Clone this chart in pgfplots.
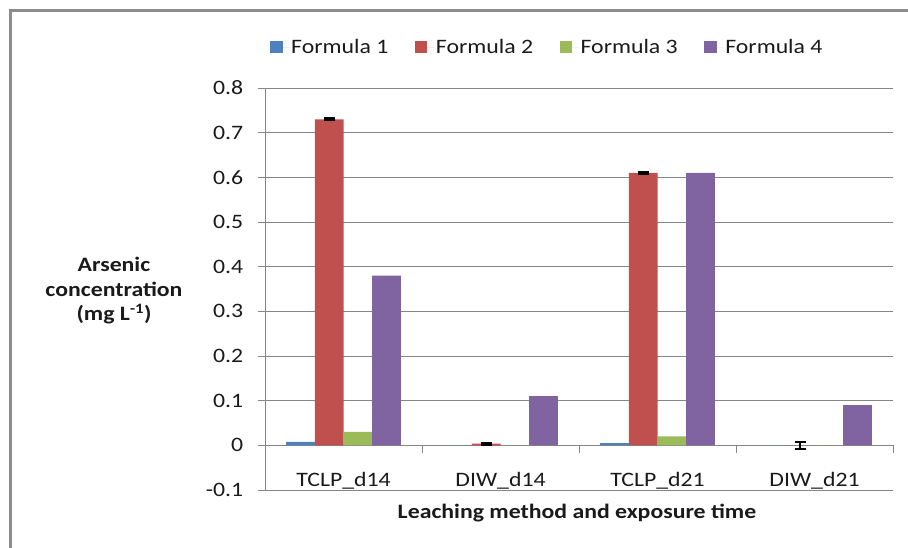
\documentclass[border=0pt]{standalone}
\usepackage{pgfplots}
\pgfplotsset{compat=1.18}
\usepackage{fontspec}
\setmainfont{Carlito}[FakeStretch=1.16]

\definecolor{fone}{HTML}{4F81BD}
\definecolor{ftwo}{HTML}{C0504D}
\definecolor{fthree}{HTML}{9BBB59}
\definecolor{ffour}{HTML}{8064A2}
\definecolor{gridgray}{HTML}{868686}
\definecolor{framegray}{HTML}{8C8C8C}
\definecolor{txt}{HTML}{1A1A1A}

\newcommand{\chartfont}{\fontsize{20.5}{24.5}\selectfont}

\begin{document}
\begin{tikzpicture}[x=1pt,y=1pt]
\useasboundingbox (0,0) rectangle (908,547);
% chart area frame
\draw[framegray, line width=2.5pt] (10.7,-20) -- (10.7,536.3) -- (940,536.3);

\begin{axis}[
  scale only axis, width=628pt, height=402pt,
  at={(265pt,57pt)}, anchor=south west,
  xmin=-0.5, xmax=3.5, ymin=-0.1, ymax=0.8,
  axis x line=none, axis y line*=left,
  axis line style={gridgray, line width=0.8pt, -},
  ytick={-0.1,0,0.1,0.2,0.3,0.4,0.5,0.6,0.7,0.8},
  yticklabels={-0.1,0,0.1,0.2,0.3,0.4,0.5,0.6,0.7,0.8},
  ymajorgrids, grid style={gridgray, line width=0.8pt},
  tick align=outside, major tick length=7.5pt,
  ytick style={gridgray, line width=0.8pt},
  yticklabel style={font=\chartfont, text=txt, inner sep=0pt, xshift=-14pt},
  ybar=0pt, bar width=28.7pt,
  legend columns=4,
  legend style={at={(0.008,1.102)}, anchor=west, draw=none, fill=none,
    inner sep=0pt, font=\chartfont, text=txt,
    /tikz/every even column/.append style={column sep=24.5pt}},
  legend image code/.code={\fill[#1] (0pt,-5.8pt) rectangle (12.5pt,5.8pt);
    \path (0pt,0pt) -- (19pt,0pt);},
  clip=false,
]
\addplot[fill=fone, draw=none] coordinates {(0,0.008) (1,0) (2,0.005) (3,0)};
\addplot[fill=ftwo, draw=none,
  error bars/.cd, y dir=both, y explicit,
  error bar style={black, line width=1.8pt},
  error mark options={rotate=90, black, mark size=5.5pt, line width=2.2pt}]
  coordinates {(0,0.73) +- (0,0.002) (1,0.004) +- (0,0.002)
               (2,0.61) +- (0,0.002) (3,0) +- (0,0.008)};
\addplot[fill=fthree, draw=none] coordinates {(0,0.03) (1,0) (2,0.02) (3,0)};
\addplot[fill=ffour, draw=none] coordinates {(0,0.38) (1,0.11) (2,0.61) (3,0.09)};
\legend{Formula 1,Formula 2,Formula 3,Formula 4}

% category axis at zero with boundary ticks
\pgfplotsinvokeforeach{-0.5,0.5,1.5,2.5,3.5}{
  \draw[gridgray, line width=0.8pt] (axis cs:#1,0) -- ++(0pt,-7.5pt);
}
\node[font=\chartfont, text=txt, anchor=base] at (axis cs:0,-0.093) {TCLP\_d14};
\node[font=\chartfont, text=txt, anchor=base] at (axis cs:1,-0.093) {DIW\_d14};
\node[font=\chartfont, text=txt, anchor=base] at (axis cs:2,-0.093) {TCLP\_d21};
\node[font=\chartfont, text=txt, anchor=base] at (axis cs:3,-0.093) {DIW\_d21};
\end{axis}

\node[align=center, font=\bfseries\chartfont, text=txt] at (114,256)
  {Arsenic\\concentration\\(mg L\textsuperscript{-1})};
\node[anchor=base, font=\bfseries\chartfont, text=txt] at (577,29)
  {Leaching method and exposure time};
\end{tikzpicture}
\end{document}
